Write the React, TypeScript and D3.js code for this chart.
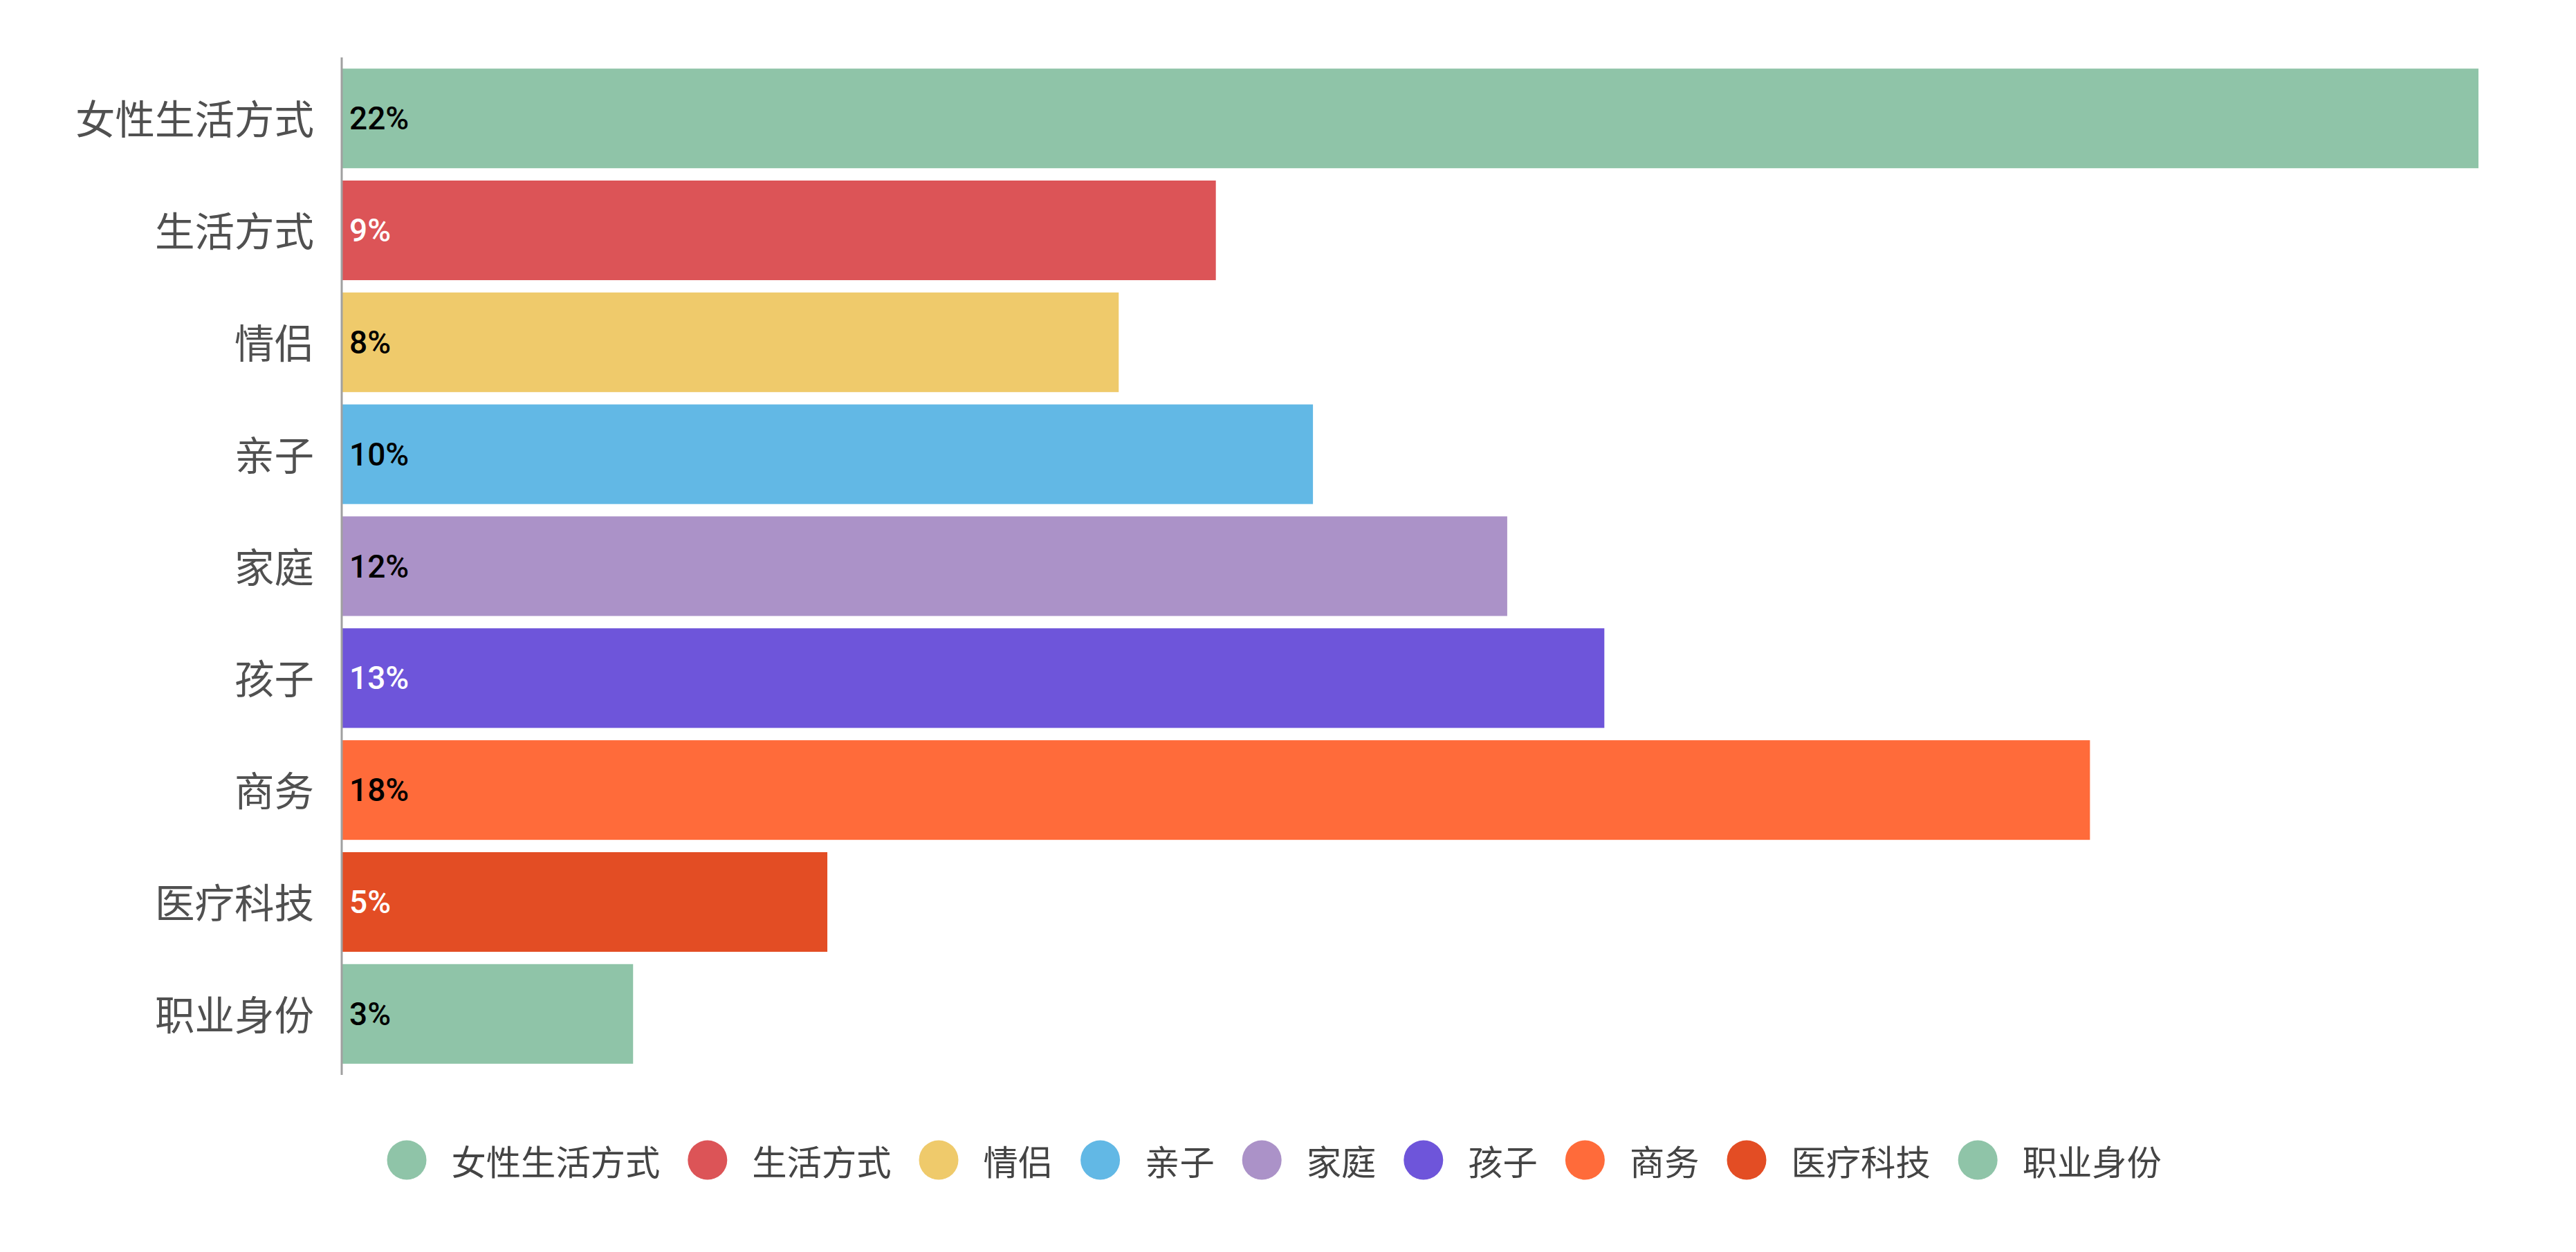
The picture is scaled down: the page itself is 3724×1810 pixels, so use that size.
import React from "react";
import * as d3 from "d3";

const categories = ["女性生活方式", "生活方式", "情侣", "亲子", "家庭", "孩子", "商务", "医疗科技", "职业身份"];
const values = [22, 9, 8, 10, 12, 13, 18, 5, 3];
const colors = ["#8fc4a8", "#dc5457", "#efca6b", "#62b8e5", "#ab92c8", "#6e55da", "#ff6b3a", "#e34d24", "#8fc4a8"];
const labelColors = ["#000", "#fff", "#000", "#000", "#000", "#fff", "#000", "#fff", "#000"];

const W = 3724;
const H = 1810;
const plotLeft = 494;
const plotRight = 3583;
const plotTop = 83;
const plotBottom = 1554;

export default function App() {
  const x = d3.scaleLinear().domain([0, d3.max(values) as number]).range([plotLeft, plotRight]);
  const y = d3.scaleBand<string>().domain(categories).range([plotTop, plotBottom]).paddingInner(0.11).paddingOuter(0.1);

  const legendFont = 50.3;
  const r = 28.5;
  let cursor = 559.5;
  const legendItems = categories.map((c, i) => {
    const cx = cursor + r;
    const tx = cx + r + 36;
    const tw = c.length * legendFont;
    cursor = tx + tw + 40;
    return { c, i, cx, tx };
  });

  return (
    <svg width={W} height={H} style={{ position: "absolute", left: 0, top: 0, background: "#fff" }}>
      <rect x={0} y={0} width={W} height={H} fill="#fff" />
      {categories.map((c, i) => (
        <rect key={c + i} x={x(0)} y={y(c)} width={x(values[i]) - x(0)} height={y.bandwidth()} fill={colors[i]} />
      ))}
      <line x1={plotLeft} x2={plotLeft} y1={plotTop} y2={plotBottom} stroke="#a0a0a0" strokeWidth={3} />
      {categories.map((c, i) => (
        <text
          key={"l" + i}
          x={454}
          y={(y(c) as number) + y.bandwidth() / 2 - 2}
          textAnchor="end"
          dominantBaseline="central"
          fontFamily="'Noto Sans CJK SC', sans-serif"
          fontSize={57.5}
          fill="#505050"
        >
          {c}
        </text>
      ))}
      {categories.map((c, i) => (
        <text
          key={"v" + i}
          x={x(0) + 11}
          y={(y(c) as number) + y.bandwidth() / 2}
          dominantBaseline="central"
          fontFamily="Roboto, sans-serif"
          fontWeight={500}
          fontSize={46}
          fill={labelColors[i]}
        >
          {values[i] + "%"}
        </text>
      ))}
      {legendItems.map(({ c, i, cx, tx }) => (
        <g key={"g" + i}>
          <circle cx={cx} cy={1677} r={r} fill={colors[i]} />
          <text
            x={tx}
            y={1677}
            dominantBaseline="central"
            fontFamily="'Noto Sans CJK SC', sans-serif"
            fontSize={legendFont}
            fill="#444"
          >
            {c}
          </text>
        </g>
      ))}
    </svg>
  );
}
